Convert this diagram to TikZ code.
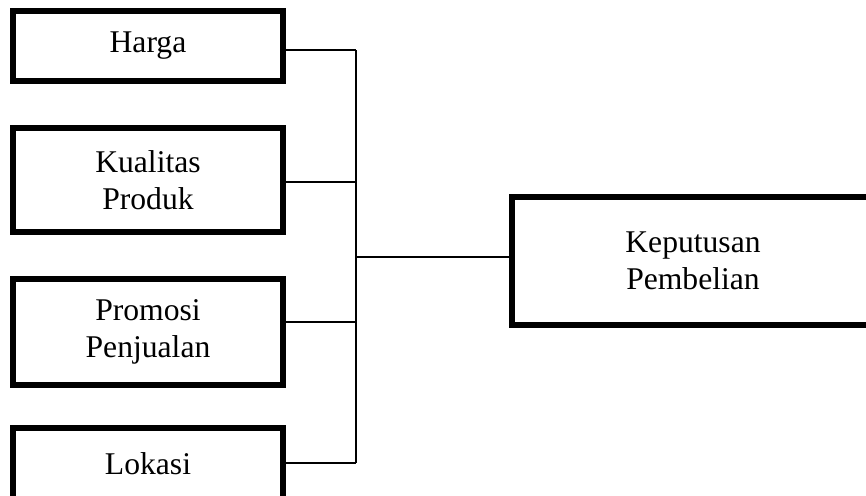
\documentclass[tikz,border=0pt]{standalone}
\usepackage{fontspec}
\setmainfont{Liberation Serif}
\usepackage{tikz}

\begin{document}
\begin{tikzpicture}[x=0.02cm,y=-0.02cm,
    varbox/.style={draw,line width=3pt,minimum width=5.4cm,align=center,
        font=\fontsize{18}{21}\selectfont,inner sep=0pt},
    link/.style={line width=0.9pt}]
    \useasboundingbox (0,0) rectangle (866,495);
    \clip (0,0) rectangle (866,495);

    \node (harga) at (148,46) [varbox,minimum height=1.4cm] {Harga};
    \node (kualitas) at (148,180) [varbox,minimum height=2.08cm] {Kualitas\\Produk};
    \node (promosi) at (148,332) [varbox,minimum height=2.12cm] {Promosi\\Penjualan};
    \node (lokasi) at (148,464) [varbox,minimum height=1.44cm] {Lokasi};

    \node (keputusan) at (693,261) [varbox,minimum width=7.24cm,minimum height=2.56cm] {Keputusan\\Pembelian};

    % taps on the bus
    \coordinate (t1) at (356,50);
    \coordinate (t2) at (356,182);
    \coordinate (t3) at (356,322);
    \coordinate (t4) at (356,463);
    \coordinate (tm) at (356,257);

    \draw[link] (harga.east |- t1) -- (t1);
    \draw[link] (kualitas.east |- t2) -- (t2);
    \draw[link] (promosi.east |- t3) -- (t3);
    \draw[link] (lokasi.east |- t4) -- (t4);
    \draw[link] (t1) -- (t4);
    \draw[link] (tm) -- (keputusan.west |- tm);
\end{tikzpicture}
\end{document}
